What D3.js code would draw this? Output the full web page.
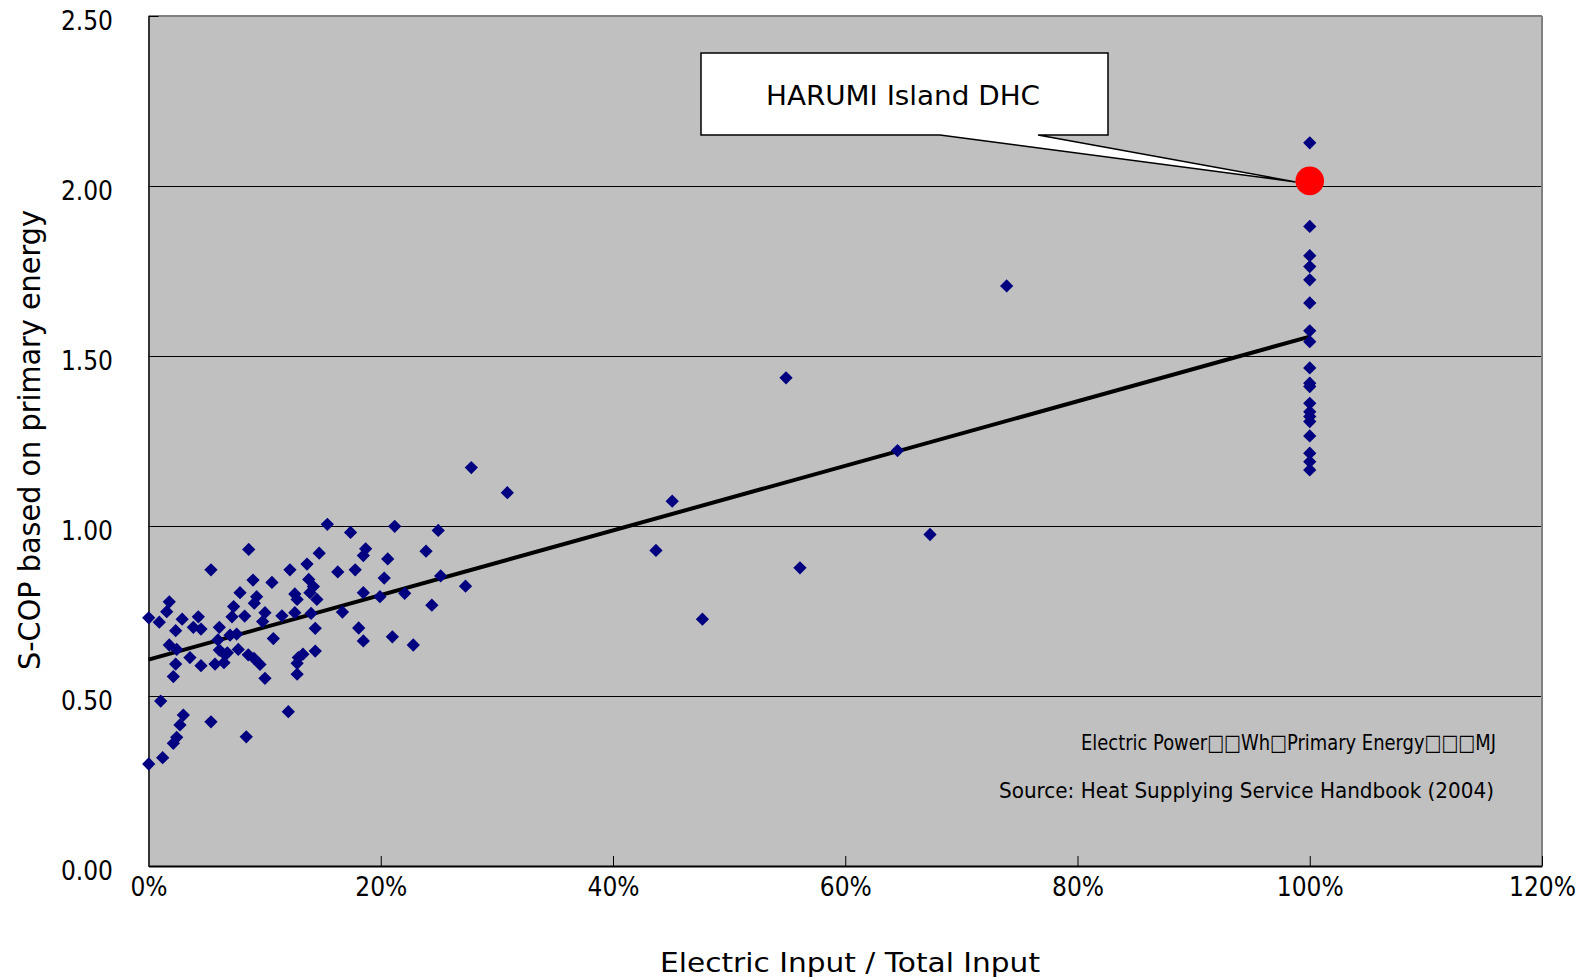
<!DOCTYPE html>
<html>
<head>
<meta charset="utf-8">
<script src="https://cdn.jsdelivr.net/npm/d3@7"></script>
<style>
  html, body { margin: 0; padding: 0; background: #fff; }
  svg { display: block; }
</style>
</head>
<body>
<svg id="chart" width="1584" height="977"></svg>
<script>
// ---------------- DATA ----------------
// Electric input / total input (fraction) for district heating & cooling plants
const electricShare = [
  0.0863, 0.0538, 0.1218, 0.090, 0.1063, 0.0788, 0.0931, 0.0911, 0.0179, 0.0157,
  0.0733, 0.0719, 0.0828, 0.1003, 0.0983, 0.1149, 0.0002, 0.0093, 0.029, 0.0429,
  0.0386, 0.0452, 0.0234, 0.061, 0.0702, 0.0759, 0.0179, 0.0243, 0.0598, 0.1075,
  0.061, 0.0679, 0.0773, 0.0357, 0.0859, 0.0908, 0.096, 0.0234, 0.0452, 0.0573,
  0.065, 0.066, 0.0214, 0.1003, 0.0105, 0.030, 0.0271, 0.0243, 0.0214, 0.0538,
  0.0842, 0.1204, 0.0122, 0.0002,
  0.154, 0.174, 0.212, 0.2495, 0.147, 0.1365, 0.187, 0.185, 0.206, 0.239,
  0.163, 0.178, 0.203, 0.138, 0.142, 0.145, 0.126, 0.128, 0.139, 0.2516,
  0.273, 0.2206, 0.1993, 0.185, 0.244, 0.167, 0.126, 0.140, 0.1436, 0.181,
  0.185, 0.210, 0.228, 0.1436, 0.133, 0.129, 0.128, 0.128,
  0.278, 0.309, 0.451, 0.437, 0.477, 0.549, 0.561, 0.645, 0.673, 0.739
];
// S-COP based on primary energy for the same plants
const scop = [
  0.931, 0.871, 0.871, 0.841, 0.834, 0.804, 0.792, 0.773, 0.777, 0.748,
  0.763, 0.733, 0.735, 0.745, 0.719, 0.736, 0.730, 0.717, 0.726, 0.733,
  0.702, 0.697, 0.692, 0.702, 0.679, 0.682, 0.650, 0.637, 0.665, 0.669,
  0.635, 0.627, 0.637, 0.613, 0.621, 0.611, 0.593, 0.594, 0.589, 0.594,
  0.598, 0.621, 0.557, 0.552, 0.485, 0.444, 0.415, 0.3785, 0.361, 0.424,
  0.380, 0.454, 0.3185, 0.300,
  1.005, 0.981, 0.999, 0.987, 0.920, 0.888, 0.933, 0.913, 0.903, 0.926,
  0.865, 0.871, 0.847, 0.843, 0.822, 0.784, 0.800, 0.784, 0.804, 0.853,
  0.823, 0.802, 0.792, 0.804, 0.767, 0.747, 0.745, 0.743, 0.699, 0.700,
  0.662, 0.674, 0.650, 0.632, 0.623, 0.613, 0.596, 0.564,
  1.172, 1.098, 1.073, 0.928, 0.726, 1.436, 0.877, 1.222, 0.975, 1.706
];
// All-electric plants (electric share = 100%)
const allElectricShare = 1.0;
const allElectricScop = [
  2.127, 1.881, 1.795, 1.763, 1.724, 1.656, 1.574, 1.542, 1.465, 1.420,
  1.410, 1.361, 1.336, 1.322, 1.307, 1.265, 1.214, 1.189, 1.165
];
// Highlighted plant
const harumiX = 1.0;
const harumiY = 2.015;
const harumiLabel = "HARUMI Island DHC";
// Linear trend line end points
const trendX = [0.0, 1.0];
const trendY = [0.607, 1.557];
// Axes
const xTicks = [0, 0.2, 0.4, 0.6, 0.8, 1.0, 1.2];
const yTicks = [0, 0.5, 1.0, 1.5, 2.0, 2.5];
const gridValues = [0.5, 1.0, 1.5, 2.0];
const xTitle = "Electric Input / Total Input";
const yTitle = "S-COP based on primary energy";
const noteLines = [
  "Electric Power\u25A1\u25A1Wh\u25A1Primary Energy\u25A1\u25A1\u25A1MJ",
  "Source: Heat Supplying Service Handbook (2004)"
];

// ---------------- LAYOUT ----------------
const L = 148.5, R = 1542, T = 16, B = 866;
const svg = d3.select("#chart");
const x = d3.scaleLinear().domain([0, 1.2]).range([L, R]);
const y = d3.scaleLinear().domain([0, 2.5]).range([B, T]);
const tickFont = "'DejaVu Sans Condensed', 'DejaVu Sans', sans-serif";
const textFont = "'DejaVu Sans', sans-serif";

// plot background
svg.append("rect")
  .attr("x", L).attr("y", T).attr("width", R - L).attr("height", B - T)
  .attr("fill", "#C0C0C0");

// gridlines
svg.append("g").selectAll("line").data(gridValues).join("line")
  .attr("x1", L).attr("x2", R)
  .attr("y1", d => Math.round(y(d)) + 0.5).attr("y2", d => Math.round(y(d)) + 0.5)
  .attr("stroke", "#000").attr("stroke-width", 1);

// top & right frame (grey)
svg.append("line").attr("x1", L).attr("x2", R).attr("y1", T).attr("y2", T)
  .attr("stroke", "#808080").attr("stroke-width", 2);
svg.append("line").attr("x1", R).attr("x2", R).attr("y1", T).attr("y2", B)
  .attr("stroke", "#808080").attr("stroke-width", 2);

// x axis
const gx = svg.append("g").attr("transform", `translate(0,${B})`)
  .call(d3.axisBottom(x).tickValues(xTicks).tickFormat(d3.format(".0%"))
    .tickSizeInner(-10).tickSizeOuter(0));
gx.select(".domain").attr("stroke", "#000").attr("stroke-width", 2);
gx.selectAll(".tick line").attr("stroke", "#000").attr("stroke-width", 1);
gx.selectAll(".tick text")
  .attr("y", 30).attr("dy", null)
  .attr("font-family", tickFont).attr("font-size", 26).attr("fill", "#000");

// y axis
const gy = svg.append("g").attr("transform", `translate(${L},0)`)
  .call(d3.axisLeft(y).tickValues(yTicks).tickFormat(d3.format(".2f"))
    .tickSizeInner(-10).tickSizeOuter(0));
gy.select(".domain").attr("stroke", "#333").attr("stroke-width", 2);
gy.selectAll(".tick line").attr("stroke", "#000").attr("stroke-width", 1);
gy.selectAll(".tick text")
  .attr("x", -35.5).attr("dy", null).attr("y", 13)
  .attr("font-family", tickFont).attr("font-size", 26).attr("fill", "#000");

// axis titles
svg.append("text").text(xTitle)
  .attr("x", 850).attr("y", 972).attr("text-anchor", "middle")
  .attr("font-family", textFont).attr("font-size", 27)
  .attr("textLength", 380).attr("lengthAdjust", "spacingAndGlyphs");
svg.append("text").text(yTitle)
  .attr("transform", "translate(40,440) rotate(-90)")
  .attr("text-anchor", "middle")
  .attr("font-family", textFont).attr("font-size", 30)
  .attr("textLength", 460).attr("lengthAdjust", "spacingAndGlyphs");

// trend line
svg.append("path")
  .datum(trendX.map((d, i) => [d, trendY[i]]))
  .attr("d", d3.line().x(d => x(d[0])).y(d => y(d[1])))
  .attr("fill", "none").attr("stroke", "#000").attr("stroke-width", 4);

// scatter points (diamonds)
const pts = electricShare.map((d, i) => [d, scop[i]])
  .concat(allElectricScop.map(v => [allElectricShare, v]));
const diamond = d3.symbol().type(d3.symbolSquare).size(88);
svg.append("g").selectAll("path").data(pts).join("path")
  .attr("d", diamond)
  .attr("transform", d => `translate(${x(d[0])},${y(d[1])}) rotate(45)`)
  .attr("fill", "#000080");

// callout
const hx = x(harumiX), hy = y(harumiY);
const bx0 = 701, bx1 = 1108, by0 = 53, by1 = 135;
const calloutPath = d3.path();
calloutPath.moveTo(bx0, by0);
calloutPath.lineTo(bx1, by0);
calloutPath.lineTo(bx1, by1);
calloutPath.lineTo(1038, by1);
calloutPath.lineTo(hx - 14, hy + 1);
calloutPath.lineTo(940, by1);
calloutPath.lineTo(bx0, by1);
calloutPath.closePath();
svg.append("path").attr("d", calloutPath.toString())
  .attr("fill", "#fff").attr("stroke", "#000").attr("stroke-width", 1.5)
  .attr("stroke-linejoin", "miter");
svg.append("text").text(harumiLabel)
  .attr("x", 903).attr("y", 105).attr("text-anchor", "middle")
  .attr("font-family", textFont).attr("font-size", 27)
  .attr("textLength", 274).attr("lengthAdjust", "spacingAndGlyphs");

// highlighted point
svg.append("circle").attr("cx", hx).attr("cy", hy).attr("r", 14.3)
  .attr("fill", "#FF0000");

// notes
svg.append("text").text(noteLines[0])
  .attr("x", 1496).attr("y", 750).attr("text-anchor", "end")
  .attr("font-family", tickFont).attr("font-size", 22)
  .attr("textLength", 415).attr("lengthAdjust", "spacingAndGlyphs");
svg.append("text").text(noteLines[1])
  .attr("x", 1494).attr("y", 798).attr("text-anchor", "end")
  .attr("font-family", tickFont).attr("font-size", 22)
  .attr("textLength", 495).attr("lengthAdjust", "spacingAndGlyphs");
</script>
</body>
</html>
